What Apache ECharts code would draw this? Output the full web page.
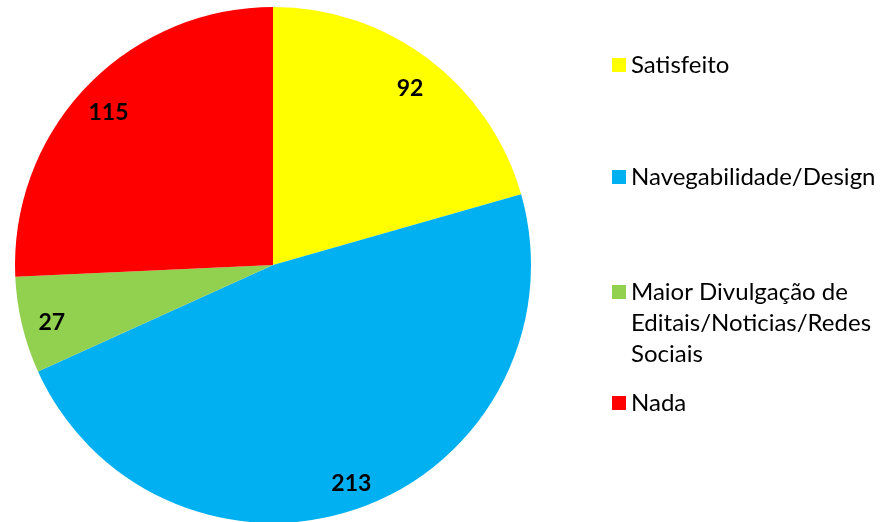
<!DOCTYPE html>
<html>
<head>
<meta charset="utf-8">
<script src="https://cdn.jsdelivr.net/npm/echarts@6/dist/echarts.min.js"></script>
<style>
  html, body { margin: 0; padding: 0; background: #fff; }
  #chart { width: 884px; height: 522px; }
</style>
</head>
<body>
<div id="chart"></div>
<script>
const categories = [
  "Satisfeito",
  "Navegabilidade/Design",
  "Maior Divulgação de Editais/Noticias/Redes Sociais",
  "Nada",
];
const values = [92, 213, 27, 115];
const colors = ["#FFFF00", "#00B0F0", "#92D050", "#FF0000"];
// legend text as it wraps in the picture; the two leading blank lines
// keep the square level with the first line
const legendLabels = {
  "Maior Divulgação de Editais/Noticias/Redes Sociais":
    "\n\nMaior Divulgação de\nEditais/Noticias/Redes\nSociais",
};

const pieData = categories.map((name, i) => ({
  name: name,
  value: values[i],
  itemStyle: { color: colors[i] },
}));

const makeLegend = (name, top) => ({
  data: [name],
  orient: "vertical",
  left: 612,
  top: top,
  padding: 0,
  icon: "rect",
  itemWidth: 14,
  itemHeight: 14,
  selectedMode: false,
  formatter: (n) => legendLabels[n] || n,
  textStyle: {
    fontFamily: "Lato",
    fontSize: 24,
    color: "#000",
    lineHeight: 31,
  },
});

const chart = echarts.init(document.getElementById("chart"));
chart.setOption({
  animation: false,
  backgroundColor: "#fff",
  legend: [
    makeLegend(categories[0], 49.5),
    makeLegend(categories[1], 161.5),
    makeLegend(categories[2], 214.5),
    makeLegend(categories[3], 387.5),
  ],
  series: [
    {
      type: "pie",
      center: [273, 265],
      radius: 258,
      startAngle: 90,
      clockwise: true,
      label: { show: false },
      labelLine: { show: false },
      emphasis: { disabled: true },
      itemStyle: { borderWidth: 0 },
      data: pieData,
    },
    {
      // transparent ring used only to place the value labels
      type: "pie",
      center: [273, 265],
      radius: [191, 258],
      startAngle: 90,
      clockwise: true,
      silent: true,
      emphasis: { disabled: true },
      itemStyle: { color: "transparent", borderWidth: 0 },
      label: {
        show: true,
        position: "inside",
        formatter: "{c}",
        fontFamily: "Lato",
        fontWeight: "bold",
        fontSize: 23,
        color: "#000",
        offset: [0, 5],
      },
      labelLine: { show: false },
      data: categories.map((name, i) => ({ name: name, value: values[i] })),
    },
  ],
});
</script>
</body>
</html>
